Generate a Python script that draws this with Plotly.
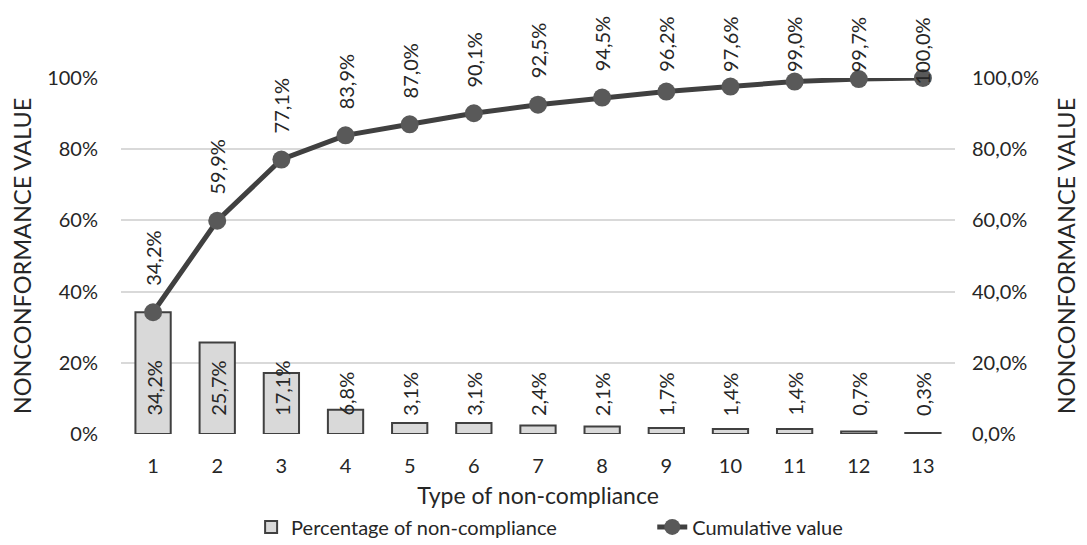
import plotly.graph_objects as go

categories = [str(i) for i in range(1, 14)]
percentage = [34.2, 25.7, 17.1, 6.8, 3.1, 3.1, 2.4, 2.1, 1.7, 1.4, 1.4, 0.7, 0.3]
cumulative = [34.2, 59.9, 77.1, 83.9, 87.0, 90.1, 92.5, 94.5, 96.2, 97.6, 99.0, 99.7, 100.0]
left_ticks = [0, 0.2, 0.4, 0.6, 0.8, 1.0]

FONT = "Lato"
TXT = "#262626"
DARK = "#404040"
FS = 20

pct = [v / 100 for v in percentage]
cum = [v / 100 for v in cumulative]

def fmt(v):
    return f"{v:.1f}".replace(".", ",") + "%"

fig = go.Figure()
fig.add_trace(go.Bar(
    x=categories, y=pct, name="Percentage of non-compliance",
    marker=dict(color="#d9d9d9", line=dict(color=DARK, width=2)),
    width=0.55, yaxis="y", hoverinfo="skip", legend="legend"))
fig.add_trace(go.Scatter(
    x=categories, y=cum, name="Cumulative value", mode="lines+markers",
    line=dict(color=DARK, width=5), marker=dict(color="#595959", size=18),
    yaxis="y2", cliponaxis=False, hoverinfo="skip", legend="legend2"))

PLOT_H = 356
ann = []
for i, v in enumerate(percentage):
    ann.append(dict(x=i, y=0, xref="x", yref="y", text=fmt(v), textangle=-90,
                    showarrow=False, yanchor="bottom", xanchor="center", yshift=16,
                    font=dict(family=FONT, size=FS, color=TXT)))
for i, v in enumerate(cumulative):
    a = dict(x=i, xref="x", text=fmt(v), textangle=-90, showarrow=False,
             xanchor="center", font=dict(family=FONT, size=FS, color=TXT))
    if (1 - v / 100) * PLOT_H < 18:
        # label would leave the chart area: keep it pinned below the top edge
        a.update(y=1.177, yref="paper", yanchor="top")
    else:
        a.update(y=v / 100, yref="y2", yanchor="bottom", yshift=24)
    ann.append(a)

fig.update_layout(
    width=1079, height=537,
    margin=dict(l=113, r=132, t=70, b=111, autoexpand=False),
    paper_bgcolor="white", plot_bgcolor="white",
    separators=",.",
    font=dict(family=FONT, size=FS, color=TXT),
    annotations=ann,
    xaxis=dict(type="category", range=[-0.5, len(categories) - 0.5],
               showgrid=False, showline=False, ticks="",
               automargin=False, ticklabelstandoff=18,
               title=dict(text="Type of non-compliance", standoff=11,
                          font=dict(family=FONT, size=23, color=TXT)),
               tickfont=dict(family=FONT, size=FS, color=TXT)),
    yaxis=dict(range=[0, 1], tickvals=left_ticks, tickformat=".0%",
               showgrid=True, gridcolor="#d9d9d9", gridwidth=1.5, zeroline=False,
               ticks="", ticklabelstandoff=22, automargin=False,
               title=dict(text="NONCONFORMANCE VALUE", standoff=22,
                          font=dict(family=FONT, size=23.5, color=TXT)),
               tickfont=dict(family=FONT, size=FS, color=TXT)),
    yaxis2=dict(range=[0, 1], tickvals=left_ticks, tickformat=".1%",
                overlaying="y", side="right", showgrid=False, zeroline=False,
                ticks="", ticklabelstandoff=16, automargin=False,
                title=dict(text="NONCONFORMANCE VALUE", standoff=20,
                           font=dict(family=FONT, size=23.5, color=TXT)),
                tickfont=dict(family=FONT, size=FS, color=TXT)),
    legend=dict(orientation="h", x=0.156, xanchor="left", y=-0.261, yanchor="middle",
                font=dict(family=FONT, size=FS, color=TXT), bgcolor="rgba(0,0,0,0)"),
    legend2=dict(orientation="h", x=0.637, xanchor="left", y=-0.261, yanchor="middle",
                 font=dict(family=FONT, size=FS, color=TXT), bgcolor="rgba(0,0,0,0)"),
    showlegend=True,
)

fig.write_html("out.html")
